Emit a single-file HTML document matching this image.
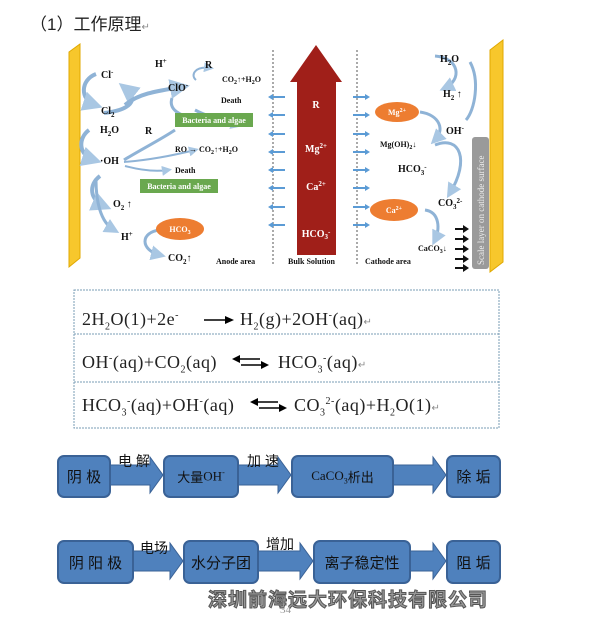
<!DOCTYPE html>
<html><head><meta charset="utf-8"><style>
body{margin:0;width:607px;height:626px;background:#fff;position:relative;overflow:hidden;font-family:"Liberation Serif","Noto Serif CJK SC",serif}
.a{position:absolute}
.box{position:absolute;background:#4f81bd;border:2px solid #3a6296;border-radius:7px;color:#111;font-family:"Liberation Sans","Noto Sans CJK SC",sans-serif;font-size:15px;display:flex;align-items:center;justify-content:center;box-sizing:border-box}
.lbl{position:absolute;font-family:"Liberation Sans","Noto Sans CJK SC",sans-serif;font-size:14px;color:#111}
.eq{position:absolute;font-size:18px;color:#222;font-family:"Liberation Serif","Noto Serif CJK SC",serif;white-space:nowrap;letter-spacing:0.5px}
.eq sub,.eq sup{font-size:10px}
</style></head><body>
<div class="a" style="left:30px;top:10px;font-size:17px;font-family:'Liberation Sans','Noto Sans CJK SC',sans-serif;color:#222">（1）工作原理<span style="font-size:10px;color:#888">↵</span></div>

<svg class="a" style="left:0;top:0" width="607" height="440" viewBox="0 0 607 440" font-family="Liberation Serif" font-weight="bold">
<defs>
<marker id="lb" markerWidth="5" markerHeight="5" refX="3" refY="2.5" orient="auto"><path d="M0,0L5,2.5L0,5z" fill="#a9c7e3"/></marker>
</defs>
<polygon points="69,52 80,44 80,258 69,267" fill="#f7c72c" stroke="#e0a800"/>
<polygon points="490,50 503,40 503,262 490,272" fill="#f7c72c" stroke="#e0a800"/>
<rect x="472" y="137" width="17" height="132" rx="3" fill="#9a9a9a"/>
<text x="0" y="0" transform="translate(484,265) rotate(-90)" font-size="9" font-weight="normal" fill="#eee">Scale layer on cathode surface</text>
<line x1="273" y1="50" x2="273" y2="265" stroke="#555" stroke-dasharray="2,2"/>
<line x1="357" y1="50" x2="357" y2="265" stroke="#555" stroke-dasharray="2,2"/>
<polygon points="316,45 342,82 336,82 336,255 297,255 297,82 290,82" fill="#a01f19"/>
<g fill="#fff" font-size="10" text-anchor="middle">
<text x="316" y="108">R</text><text x="316" y="152">Mg<tspan font-size="7" dy="-4">2+</tspan></text>
<text x="316" y="190">Ca<tspan font-size="7" dy="-4">2+</tspan></text><text x="316" y="237">HCO<tspan font-size="7" dy="2">3</tspan><tspan font-size="7" dy="-5">-</tspan></text></g>
<g stroke="#5b9bd5" stroke-width="2">
<line x1="285" y1="97" x2="272" y2="97"/><line x1="285" y1="115" x2="272" y2="115"/><line x1="285" y1="134" x2="272" y2="134"/><line x1="285" y1="152" x2="272" y2="152"/><line x1="285" y1="170" x2="272" y2="170"/><line x1="285" y1="188" x2="272" y2="188"/><line x1="285" y1="207" x2="272" y2="207"/><line x1="285" y1="225" x2="272" y2="225"/>
<line x1="353" y1="97" x2="366" y2="97"/><line x1="353" y1="115" x2="366" y2="115"/><line x1="353" y1="134" x2="366" y2="134"/><line x1="353" y1="152" x2="366" y2="152"/><line x1="353" y1="170" x2="366" y2="170"/><line x1="353" y1="188" x2="366" y2="188"/><line x1="353" y1="207" x2="366" y2="207"/><line x1="353" y1="225" x2="366" y2="225"/>
</g>
<g fill="#5b9bd5"><path d="M268,97l5,-3v6z M268,115l5,-3v6z M268,134l5,-3v6z M268,152l5,-3v6z M268,170l5,-3v6z M268,188l5,-3v6z M268,207l5,-3v6z M268,225l5,-3v6z"/>
<path d="M370,97l-5,-3v6z M370,115l-5,-3v6z M370,134l-5,-3v6z M370,152l-5,-3v6z M370,170l-5,-3v6z M370,188l-5,-3v6z M370,207l-5,-3v6z M370,225l-5,-3v6z"/></g>
<g fill="#111"><path d="M455,228h8v-3l6,4l-6,4v-3h-8z M455,238h8v-3l6,4l-6,4v-3h-8z M455,248h8v-3l6,4l-6,4v-3h-8z M455,258h8v-3l6,4l-6,4v-3h-8z M455,267h8v-3l6,4l-6,4v-3h-8z"/></g>
<g fill="none" stroke="#8fb3d6" stroke-width="4">
<path d="M96,74 C80,80 80,100 95,105" marker-end="url(#lb)"/>
<path d="M104,113 C130,110 140,100 125,88" marker-end="url(#lb)"/>
<path d="M125,105 C140,92 165,90 182,87" marker-end="url(#lb)"/>
<path d="M172,98 C168,110 180,115 195,120" stroke-width="3"/>
<path d="M195,110 C210,118 225,120 240,124" marker-end="url(#lb)" stroke-width="3"/>
<path d="M196,80 C190,75 195,66 210,68" marker-end="url(#lb)" stroke-width="2"/>
<path d="M89,130 C78,138 78,155 94,160" marker-end="url(#lb)"/>
<path d="M124,160 C140,150 160,140 175,130" stroke-width="3"/>
<path d="M124,162 C150,160 175,155 195,150" marker-end="url(#lb)" stroke-width="2"/>
<path d="M125,166 C140,170 155,172 168,170" marker-end="url(#lb)" stroke-width="2"/>
<path d="M100,176 C88,185 90,200 104,206" marker-end="url(#lb)"/>
<path d="M96,180 C96,200 100,222 114,230" marker-end="url(#lb)" stroke-width="3"/>
<path d="M160,230 C140,232 140,250 160,255" marker-end="url(#lb)" stroke-width="3"/>
<path d="M435,56 C460,58 462,80 445,88" marker-end="url(#lb)" stroke-width="3"/>
<path d="M470,62 C480,80 475,110 466,120" stroke-width="3"/>
<path d="M420,112 C440,115 445,130 435,140" marker-end="url(#lb)" stroke-width="3"/>
<path d="M435,145 C460,135 470,160 450,193" marker-end="url(#lb)" stroke-width="3"/>
<path d="M425,210 C440,212 440,230 435,240" marker-end="url(#lb)" stroke-width="3"/>
</g>
<g font-size="10" fill="#111">
<text x="101" y="78">Cl<tspan font-size="7" dy="-4">-</tspan></text>
<text x="101" y="114">Cl<tspan font-size="7" dy="3">2</tspan></text>
<text x="155" y="67">H<tspan font-size="7" dy="-4">+</tspan></text>
<text x="168" y="91">ClO<tspan font-size="7" dy="-4">-</tspan></text>
<text x="205" y="68">R</text>
<text x="222" y="82" font-size="8">CO<tspan font-size="6" dy="2">2</tspan><tspan dy="-2">↑+H</tspan><tspan font-size="6" dy="2">2</tspan><tspan dy="-2">O</tspan></text>
<text x="221" y="103" font-size="8">Death</text>
<text x="100" y="133">H<tspan font-size="7" dy="3">2</tspan><tspan dy="-3">O</tspan></text>
<text x="145" y="134">R</text>
<text x="100" y="164">·OH</text>
<text x="175" y="152" font-size="8">RO → CO<tspan font-size="6" dy="2">2</tspan><tspan dy="-2">↑+H</tspan><tspan font-size="6" dy="2">2</tspan><tspan dy="-2">O</tspan></text>
<text x="175" y="173" font-size="8">Death</text>
<text x="113" y="207">O<tspan font-size="7" dy="3">2</tspan><tspan dy="-3"> ↑</tspan></text>
<text x="121" y="240">H<tspan font-size="7" dy="-4">+</tspan></text>
<text x="168" y="261">CO<tspan font-size="7" dy="3">2</tspan><tspan dy="-3">↑</tspan></text>
<text x="216" y="264" font-size="8">Anode area</text>
<text x="288" y="264" font-size="8">Bulk Solution</text>
<text x="365" y="264" font-size="8">Cathode area</text>
<text x="440" y="62">H<tspan font-size="7" dy="3">2</tspan><tspan dy="-3">O</tspan></text>
<text x="443" y="97">H<tspan font-size="7" dy="3">2</tspan><tspan dy="-3"> ↑</tspan></text>
<text x="446" y="134">OH<tspan font-size="7" dy="-4">-</tspan></text>
<text x="380" y="147" font-size="8">Mg(OH)<tspan font-size="6" dy="2">2</tspan><tspan dy="-2">↓</tspan></text>
<text x="398" y="172">HCO<tspan font-size="7" dy="3">3</tspan><tspan font-size="7" dy="-6">-</tspan></text>
<text x="438" y="206">CO<tspan font-size="7" dy="3">3</tspan><tspan font-size="7" dy="-6">2-</tspan></text>
<text x="418" y="251" font-size="8">CaCO<tspan font-size="6" dy="2">3</tspan><tspan dy="-2">↓</tspan></text>
</g>
<rect x="175" y="113" width="78" height="14" fill="#6aa84f"/>
<text x="214" y="123" font-size="8" fill="#fff" text-anchor="middle">Bacteria and algae</text>
<rect x="140" y="179" width="78" height="14" fill="#6aa84f"/>
<text x="179" y="189" font-size="8" fill="#fff" text-anchor="middle">Bacteria and algae</text>
<ellipse cx="180" cy="229" rx="24" ry="11" fill="#ed7d31"/>
<text x="180" y="232" font-size="8" fill="#fff" text-anchor="middle">HCO<tspan font-size="6" dy="2">3</tspan></text>
<ellipse cx="397" cy="112" rx="22" ry="10" fill="#ed7d31"/>
<text x="397" y="115" font-size="8" fill="#fff" text-anchor="middle">Mg<tspan font-size="6" dy="-3">2+</tspan></text>
<ellipse cx="394" cy="210" rx="24" ry="11" fill="#ed7d31"/>
<text x="394" y="213" font-size="8" fill="#fff" text-anchor="middle">Ca<tspan font-size="6" dy="-3">2+</tspan></text>
<g fill="none" stroke="#7a9cb5" stroke-dasharray="2,1">
<rect x="74" y="290" width="425" height="138"/>
<line x1="74" y1="334" x2="499" y2="334"/><line x1="74" y1="382" x2="499" y2="382"/>
</g>
<path d="M204,320h22" stroke="#000" stroke-width="1.5"/><path d="M234,320l-9,-4v8z" fill="#000"/>
<path d="M238,359h22M241,365h22" stroke="#000" stroke-width="1.5"/><path d="M232,359l8,-4v8z M269,365l-8,-4v8z" fill="#000"/>
<path d="M256,402h22M259,408h22" stroke="#000" stroke-width="1.5"/><path d="M250,402l8,-4v8z M287,408l-8,-4v8z" fill="#000"/>
</svg>
<div class="eq" style="left:82px;top:309px">2H<sub>2</sub>O(1)+2e<sup>-</sup></div>
<div class="eq" style="left:240px;top:309px">H<sub>2</sub>(g)+2OH<sup>-</sup>(aq)<span style="font-size:10px;color:#888">↵</span></div>
<div class="eq" style="left:82px;top:352px">OH<sup>-</sup>(aq)+CO<sub>2</sub>(aq)</div>
<div class="eq" style="left:278px;top:352px">HCO<sub>3</sub><sup>-</sup>(aq)<span style="font-size:10px;color:#888">↵</span></div>
<div class="eq" style="left:82px;top:395px">HCO<sub>3</sub><sup>-</sup>(aq)+OH<sup>-</sup>(aq)</div>
<div class="eq" style="left:294px;top:395px">CO<sub>3</sub><sup>2-</sup>(aq)+H<sub>2</sub>O(1)<span style="font-size:10px;color:#888">↵</span></div>

<svg class="a" style="left:0;top:440px" width="607" height="160">
<g fill="#4f81bd" stroke="#3a6296">
<polygon points="110,25 150,25 150,17 163,35 150,53 150,45 110,45"/>
<polygon points="238,25 278,25 278,17 291,35 278,53 278,45 238,45"/>
<polygon points="393,25 433,25 433,17 446,35 433,53 433,45 393,45"/>
<polygon points="133,111 170,111 170,103 183,121 170,139 170,131 133,131"/>
<polygon points="258,111 300,111 300,103 313,121 300,139 300,131 258,131"/>
<polygon points="410,111 433,111 433,103 446,121 433,139 433,131 410,131"/>
</g></svg>
<div class="box" style="left:57px;top:455px;width:54px;height:43px">阴 极</div>
<div class="box" style="left:163px;top:455px;width:76px;height:43px;font-size:13px">大量<span style="font-family:'Liberation Serif'">OH<sup style="font-size:8px">-</sup></span></div>
<div class="box" style="left:291px;top:455px;width:103px;height:43px;font-size:13px"><span style="font-family:'Liberation Serif'">CaCO<sub style="font-size:8px">3</sub></span>析出</div>
<div class="box" style="left:446px;top:455px;width:55px;height:43px">除 垢</div>
<div class="lbl" style="left:118px;top:451px">电 解</div>
<div class="lbl" style="left:247px;top:451px">加 速</div>
<div class="box" style="left:57px;top:540px;width:77px;height:44px">阴 阳 极</div>
<div class="box" style="left:183px;top:540px;width:76px;height:44px">水分子团</div>
<div class="box" style="left:313px;top:540px;width:98px;height:44px">离子稳定性</div>
<div class="box" style="left:446px;top:540px;width:55px;height:44px">阻 垢</div>
<div class="lbl" style="left:140px;top:538px">电场</div>
<div class="lbl" style="left:266px;top:534px">增加</div>
<div class="a" style="left:208px;top:585px;font-size:19px;font-weight:bold;color:#999;-webkit-text-stroke:1px #555;font-family:'Noto Sans CJK SC',sans-serif;letter-spacing:1px">深圳前海远大环保科技有限公司</div>
<div class="a" style="left:280px;top:604px;font-size:11px;color:#999">34</div>
</body></html>
